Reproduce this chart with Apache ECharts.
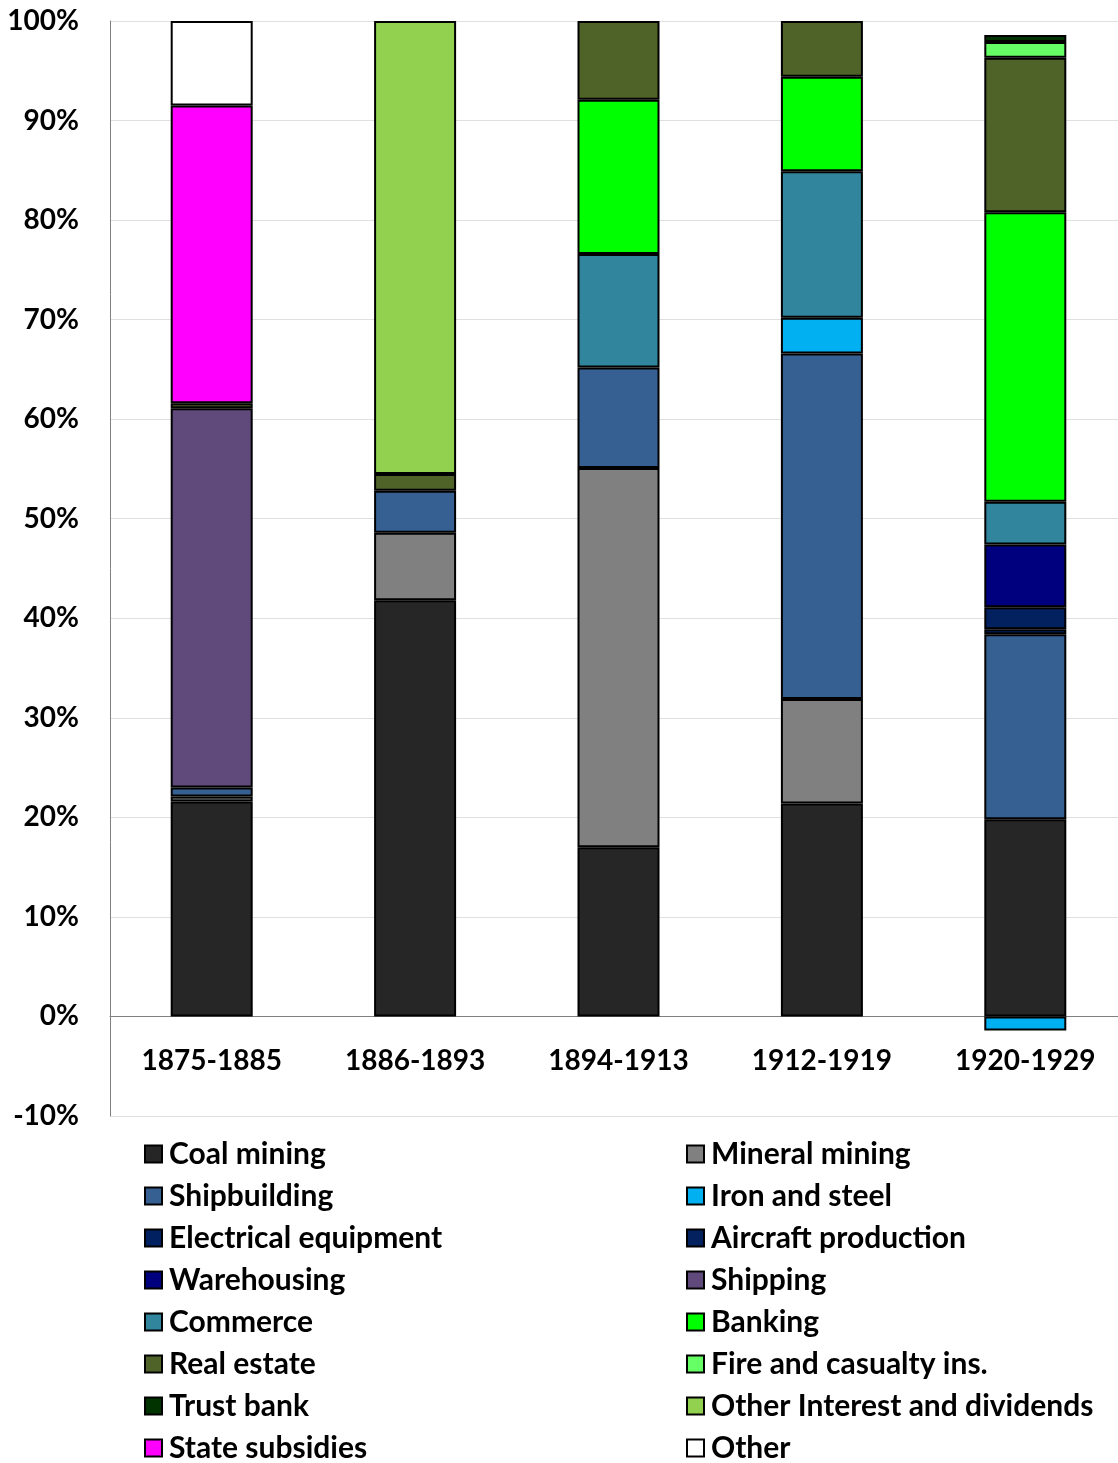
<!DOCTYPE html>
<html>
<head>
<meta charset="utf-8">
<script src="https://cdn.jsdelivr.net/npm/echarts@6/dist/echarts.min.js"></script>
<style>html,body{margin:0;padding:0;background:#fff;}#c{width:1118px;height:1463px;}</style>
</head>
<body>
<div id="c"></div>
<script>
const categories = ['1875-1885', '1886-1893', '1894-1913', '1912-1919', '1920-1929'];
const yTicks = [-10, 0, 10, 20, 30, 40, 50, 60, 70, 80, 90, 100];

const coalMining      = [21.6, 41.8, 17.0, 21.4, 19.8];
const mineralMining   = [0.5, 6.8, 38.1, 10.5, 0];
const shipbuilding    = [0.9, 4.2, 10.1, 34.7, 18.6];
const ironSteel       = [0, 0, 0, 3.6, -1.4];
const electrical      = [0, 0, 0, 0, 0.5];
const aircraft        = [0, 0, 0, 0, 2.2];
const warehousing     = [0, 0, 0, 0, 6.3];
const shipping        = [38.1, 0, 0, 0, 0];
const commerce        = [0, 0, 11.4, 14.7, 4.3];
const banking         = [0, 0, 15.5, 9.5, 29.1];
const realEstate      = [0.5, 1.7, 7.9, 5.6, 15.5];
const fireCasualty    = [0, 0, 0, 0, 1.6];
const trustBank       = [0, 0, 0, 0, 0.7];
const otherInterest   = [0, 45.5, 0, 0, 0];
const stateSubsidies  = [29.9, 0, 0, 0, 0];
const other           = [8.5, 0, 0, 0, 0];

const seriesDefs = [
  ['Coal mining', coalMining, '#262626'],
  ['Mineral mining', mineralMining, '#808080'],
  ['Shipbuilding', shipbuilding, '#376092'],
  ['Iron and steel', ironSteel, '#00b0f0'],
  ['Electrical equipment', electrical, '#002060'],
  ['Aircraft production', aircraft, '#03215f'],
  ['Warehousing', warehousing, '#00007f'],
  ['Shipping', shipping, '#604a7b'],
  ['Commerce', commerce, '#31859c'],
  ['Banking', banking, '#00ff00'],
  ['Real estate', realEstate, '#4f6228'],
  ['Fire and casualty ins.', fireCasualty, '#66ff66'],
  ['Trust bank', trustBank, '#003300'],
  ['Other Interest and dividends', otherInterest, '#92d050'],
  ['State subsidies', stateSubsidies, '#ff00ff'],
  ['Other', other, '#ffffff']
];

const leftNames = seriesDefs.filter((d, i) => i % 2 === 0).map(d => d[0]);
const rightNames = seriesDefs.filter((d, i) => i % 2 === 1).map(d => d[0]);

const FONT = 'Lato, "Open Sans", sans-serif';
const legendBase = {
  orient: 'vertical',
  top: 1139,
  height: 400,
  padding: 0,
  itemWidth: 17,
  itemHeight: 17,
  itemGap: 12,
  icon: 'rect',
  textStyle: { fontFamily: FONT, fontWeight: 'bold', fontSize: 30, color: '#000', lineHeight: 30, padding: [0, 0, 0, 2] },
  selectedMode: false
};

const chart = echarts.init(document.getElementById('c'), null, { renderer: 'canvas' });
chart.setOption({
  animation: false,
  backgroundColor: '#fff',
  grid: { left: 110, width: 1017, top: 21, bottom: 347, outerBoundsMode: 'none', containLabel: false },
  legend: [
    Object.assign({}, legendBase, { left: 144, data: leftNames }),
    Object.assign({}, legendBase, { left: 686, data: rightNames })
  ],
  xAxis: {
    type: 'category',
    data: categories,
    axisLine: { onZero: true, lineStyle: { color: '#808080', width: 1 } },
    axisTick: { show: false },
    axisLabel: { fontFamily: FONT, fontWeight: 'bold', fontSize: 28, color: '#000', margin: -69 }
  },
  yAxis: {
    type: 'value',
    min: -10,
    max: 100,
    interval: 10,
    axisLine: { show: true, lineStyle: { color: '#808080', width: 1 } },
    axisTick: { show: false },
    splitLine: { lineStyle: { color: '#e0e0e0', width: 1 } },
    axisLabel: {
      fontFamily: FONT, fontWeight: 'bold', fontSize: 28, color: '#000', margin: 31,
      formatter: v => yTicks.includes(v) ? v + '%' : ''
    }
  },
  series: seriesDefs.map(d => ({
    name: d[0],
    type: 'bar',
    stack: 'total',
    data: d[1].map(v => v === 0 ? '-' : v),
    barWidth: 82,
    itemStyle: { color: d[2], borderColor: '#000', borderWidth: 2 }
  }))
});
</script>
</body>
</html>
